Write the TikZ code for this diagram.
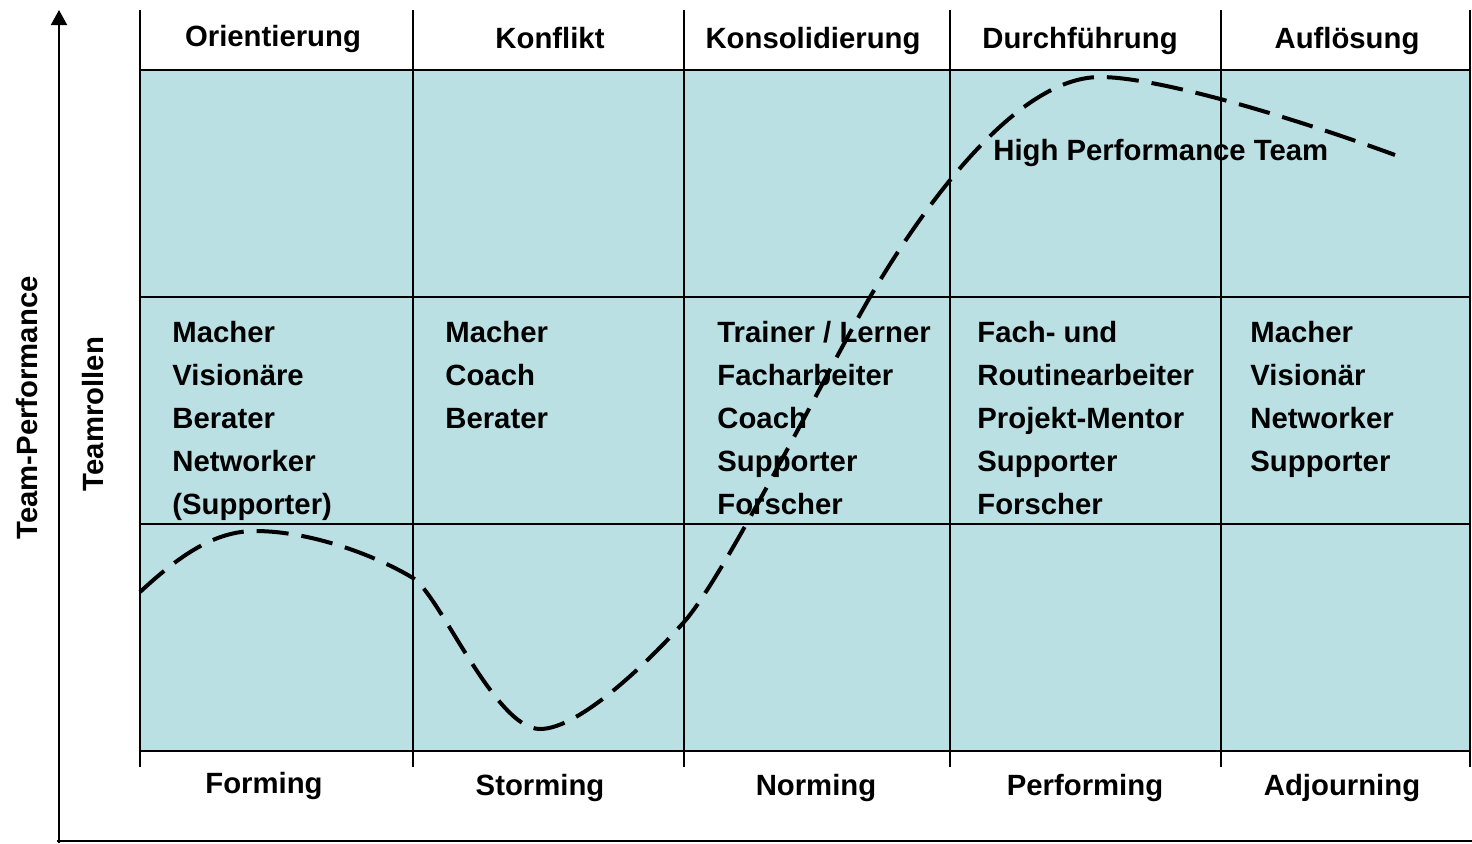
\documentclass[tikz,border=0pt]{standalone}
\usepackage{fontspec}
\setmainfont{Liberation Sans}
\usetikzlibrary{arrows.meta}
\definecolor{cellfill}{RGB}{186,224,227}
\begin{document}
\begin{tikzpicture}[x=0.5pt,y=-0.5pt,
  lbl/.style={font=\bfseries\fontsize{14.65}{17}\selectfont, inner sep=0pt},
  gridline/.style={line width=1pt, black},
  axisline/.style={line width=1pt, black},
  curveline/.style={line width=2pt, dash pattern=on 16pt off 6.5pt}]
\useasboundingbox (0,0) rectangle (1472,843);
% shaded area and grid
\fill[cellfill] (140,70) rectangle (1470,751);
\foreach \x in {140,413,684,950,1221,1470} \draw[gridline] (\x,10) -- (\x,767);
\foreach \y in {70,297,524,751} \draw[gridline] (140,\y) -- (1470,\y);
% axes
\coordinate (axbottom) at (59,843);
\coordinate (axtop) at (59,10);
\coordinate (axright) at (1472,841);
\coordinate (axleft) at (57,841);
\draw[axisline] (axleft) -- (axright);
\draw[axisline, -{Triangle[width=8pt,length=7.5pt]}] (axbottom) -- (axtop);
% axis labels
\node[lbl, rotate=90, anchor=base] (yl) at (37,408) {Team-Performance};
\node[lbl, rotate=90, anchor=base] (rl) at (103,414) {Teamrollen};
% headers
\node[lbl, anchor=base] (h1) at (273,46) {Orientierung};
\node[lbl, anchor=base] (h2) at (550,48) {Konflikt};
\node[lbl, anchor=base] (h3) at (813,48) {Konsolidierung};
\node[lbl, anchor=base] (h4) at (1080,48) {Durchführung};
\node[lbl, anchor=base] (h5) at (1347,48) {Auflösung};
% bottom labels
\node[lbl, anchor=base] (b1) at (264,793) {Forming};
\node[lbl, anchor=base] (b2) at (540,795) {Storming};
\node[lbl, anchor=base] (b3) at (816,795) {Norming};
\node[lbl, anchor=base] (b4) at (1085,795) {Performing};
\node[lbl, anchor=base] (b5) at (1342,795) {Adjourning};
% roles
\foreach \t [count=\i] in {Macher,Visionäre,Berater,Networker,(Supporter)}
  \node[lbl, anchor=base west] (ra\i) at (172,{342+43*(\i-1)}) {\t};
\foreach \t [count=\i] in {Macher,Coach,Berater}
  \node[lbl, anchor=base west] (rb\i) at (445,{342+43*(\i-1)}) {\t};
\foreach \t [count=\i] in {Trainer / Lerner,Facharbeiter,Coach,Supporter,Forscher}
  \node[lbl, anchor=base west] (rc\i) at (717,{342+43*(\i-1)}) {\t};
\foreach \t [count=\i] in {Fach- und,Routinearbeiter,Projekt-Mentor,Supporter,Forscher}
  \node[lbl, anchor=base west] (rd\i) at (977,{342+43*(\i-1)}) {\t};
\foreach \t [count=\i] in {Macher,Visionär,Networker,Supporter}
  \node[lbl, anchor=base west] (re\i) at (1250,{342+43*(\i-1)}) {\t};
\node[lbl, anchor=base west] (hpt) at (993,160) {High Performance Team};
% performance curve
\coordinate (c0) at (140,592);
\coordinate (c1) at (255,531);
\coordinate (c2) at (413,578);
\coordinate (c3) at (540,729);
\coordinate (c4) at (684,622);
\coordinate (c5) at (870,297);
\coordinate (c6) at (1100,77);
\coordinate (c7) at (1395,155);
\draw[curveline] (c0) .. controls (180,555) and (215,531) .. (c1)
  .. controls (310,531) and (375,555) .. (c2)
  .. controls (440,595) and (495,729) .. (c3)
  .. controls (580,729) and (650,660) .. (c4)
  .. controls (725,576) and (830,365) .. (c5)
  .. controls (930,195) and (1020,77) .. (c6)
  .. controls (1160,77) and (1300,120) .. (c7);
\end{tikzpicture}
\end{document}
